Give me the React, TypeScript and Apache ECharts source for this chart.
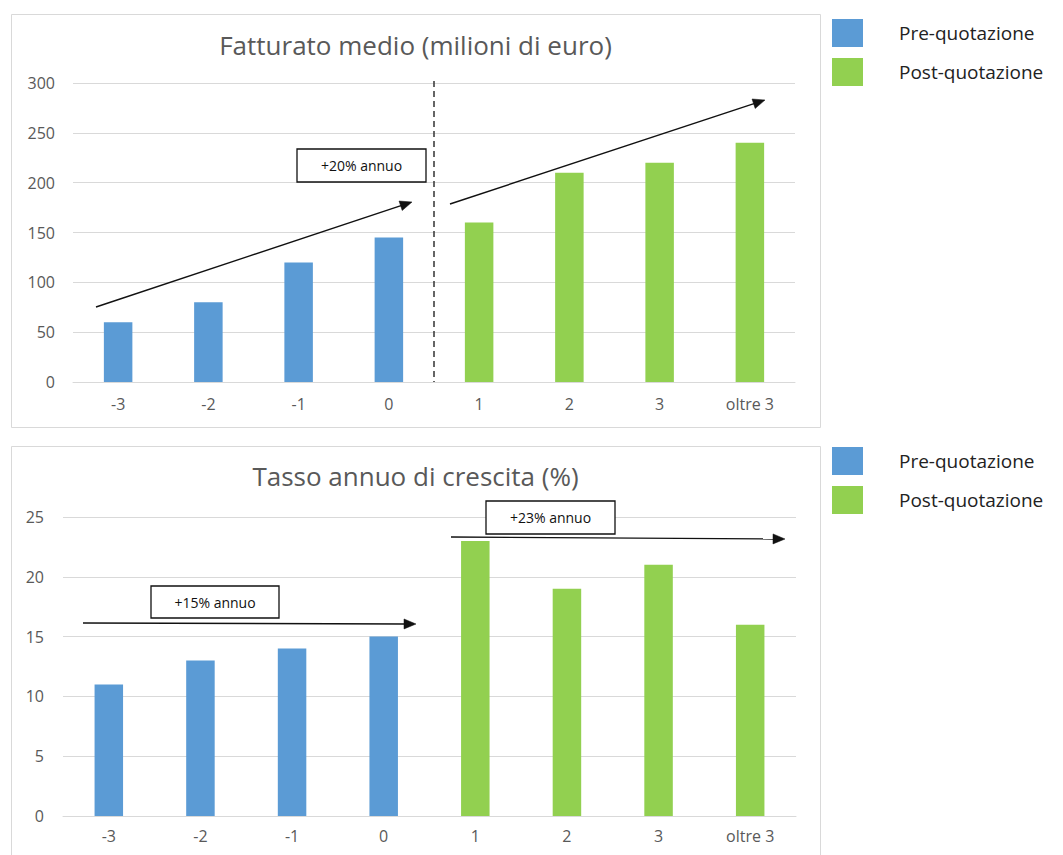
import React, { useEffect, useRef } from "react";
import * as echarts from "echarts";

// Categories: years relative to the listing (0 = listing year)
const categories = ["-3", "-2", "-1", "0", "1", "2", "3", "oltre 3"];

// Average turnover (million euro)
const fatturatoPre = [60, 80, 120, 145];
const fatturatoPost = [160, 210, 220, 240];

// Annual growth rate (%)
const crescitaPre = [11, 13, 14, 15];
const crescitaPost = [23, 19, 21, 16];

// Value axis ranges
const fatturatoAxis = { min: 0, max: 300, interval: 50 };
const crescitaAxis = { min: 0, max: 25, interval: 5 };

const seriesNames = ["Pre-quotazione", "Post-quotazione"];
const chartTitles = ["Fatturato medio (milioni di euro)", "Tasso annuo di crescita (%)"];
const trendLabels = ["+20% annuo", "+15% annuo", "+23% annuo"];

const BLUE = "#5B9BD5";
const GREEN = "#92D050";
const GRID_GRAY = "#D9D9D9";
const TEXT_GRAY = "#595959";
const FONT = '"Open Sans", "Noto Sans", sans-serif';

// Pre values fill the first slots, post values the last ones
const preSlots = (pre: number[], post: number[]) => [...pre, ...post.map(() => "-")];
const postSlots = (pre: number[], post: number[]) => [...pre.map(() => "-"), ...post];

function arrow(x1: number, y1: number, x2: number, y2: number) {
  const dx = x2 - x1;
  const dy = y2 - y1;
  const len = Math.hypot(dx, dy);
  const ux = dx / len;
  const uy = dy / len;
  const head = 12;
  const half = 5;
  const bx = x2 - ux * head;
  const by = y2 - uy * head;
  return [
    {
      type: "line",
      z: 20,
      shape: { x1, y1, x2: bx + ux * 2, y2: by + uy * 2 },
      style: { stroke: "#111", lineWidth: 1.4 },
    },
    {
      type: "polygon",
      z: 20,
      shape: {
        points: [
          [x2, y2],
          [bx - uy * half, by + ux * half],
          [bx + uy * half, by - ux * half],
        ],
      },
      style: { fill: "#111", stroke: "#111", lineWidth: 0.5 },
    },
  ];
}

function labelBox(x: number, y: number, w: number, h: number, text: string) {
  return [
    {
      type: "rect",
      z: 21,
      shape: { x, y, width: w, height: h },
      style: { fill: "#fff", stroke: "#111", lineWidth: 1.3 },
    },
    {
      type: "text",
      z: 22,
      x: x + w / 2,
      y: y + h / 2,
      style: {
        text,
        fill: "#111",
        fontSize: 14,
        fontFamily: FONT,
        align: "center",
        verticalAlign: "middle",
        textAlign: "center",
        textVerticalAlign: "middle",
      },
    },
  ];
}

function valueAxis(gridIndex: number, range: { min: number; max: number; interval: number }, margin: number) {
  return {
    type: "value",
    gridIndex,
    min: range.min,
    max: range.max,
    interval: range.interval,
    axisLine: { show: false },
    axisTick: { show: false },
    axisLabel: { color: TEXT_GRAY, fontSize: 16, fontFamily: FONT, margin },
    splitLine: { lineStyle: { color: GRID_GRAY, width: 1 } },
  };
}

function categoryAxis(gridIndex: number, margin: number) {
  return {
    type: "category",
    gridIndex,
    data: categories,
    axisLine: { lineStyle: { color: GRID_GRAY, width: 1 } },
    axisTick: { show: false },
    axisLabel: { color: TEXT_GRAY, fontSize: 16, fontFamily: FONT, margin, interval: 0 },
  };
}

function barSeries(name: string, color: string, data: (number | string)[], idx: number) {
  return {
    type: "bar",
    name,
    xAxisIndex: idx,
    yAxisIndex: idx,
    data,
    barWidth: 28.5,
    barGap: "-100%",
    itemStyle: { color },
  };
}

function legend(top: number) {
  return {
    orient: "vertical",
    left: 832,
    top,
    padding: 0,
    itemWidth: 31,
    itemHeight: 28,
    itemGap: 11,
    icon: "rect",
    data: seriesNames,
    selectedMode: false,
    textStyle: { fontSize: 19, color: "#222", fontFamily: FONT, padding: [0, 0, 0, 31] },
  };
}

const titleStyle = { fontSize: 26, fontWeight: "normal", color: TEXT_GRAY, fontFamily: FONT };

const option = {
  animation: false,
  backgroundColor: "#fff",
  title: [
    { text: chartTitles[0], left: 415.5, top: 32, textAlign: "center", padding: 0, textStyle: titleStyle },
    { text: chartTitles[1], left: 415.5, top: 463, textAlign: "center", padding: 0, textStyle: titleStyle },
  ],
  legend: [legend(19), legend(447)],
  grid: [
    { left: 73, top: 83, width: 722, height: 299 },
    { left: 63, top: 517, width: 733, height: 299 },
  ],
  xAxis: [categoryAxis(0, 14), categoryAxis(1, 12)],
  yAxis: [valueAxis(0, fatturatoAxis, 18), valueAxis(1, crescitaAxis, 19)],
  series: [
    barSeries(seriesNames[0], BLUE, preSlots(fatturatoPre, fatturatoPost), 0),
    barSeries(seriesNames[1], GREEN, postSlots(fatturatoPre, fatturatoPost), 0),
    barSeries(seriesNames[0], BLUE, preSlots(crescitaPre, crescitaPost), 1),
    barSeries(seriesNames[1], GREEN, postSlots(crescitaPre, crescitaPost), 1),
  ],
  graphic: [
    // chart frames
    {
      type: "rect",
      z: 1,
      shape: { x: 11.5, y: 14.5, width: 809, height: 413 },
      style: { fill: "none", stroke: GRID_GRAY, lineWidth: 1 },
    },
    {
      type: "rect",
      z: 1,
      shape: { x: 11.5, y: 446.5, width: 809, height: 430 },
      style: { fill: "none", stroke: GRID_GRAY, lineWidth: 1 },
    },
    // listing-year divider
    {
      type: "line",
      z: 19,
      shape: { x1: 434, y1: 81, x2: 434, y2: 382 },
      style: { stroke: "#333", lineWidth: 1.5, lineDash: [6, 4] },
    },
    ...arrow(96, 307, 412, 202),
    ...arrow(450, 204, 765, 100),
    ...labelBox(297, 149, 129, 33, trendLabels[0]),
    ...arrow(83, 623, 416, 624),
    ...arrow(451, 537, 785, 539),
    ...labelBox(151, 586, 128, 32, trendLabels[1]),
    ...labelBox(486, 501, 129, 33, trendLabels[2]),
  ],
};

export default function App() {
  const ref = useRef<HTMLDivElement>(null);
  useEffect(() => {
    if (!ref.current) return;
    const chart = echarts.init(ref.current, null, { renderer: "svg" });
    chart.setOption(option as any);
    return () => chart.dispose();
  }, []);
  return (
    <div
      ref={ref}
      style={{ position: "fixed", left: 0, top: 0, width: 1063, height: 855, background: "#fff" }}
    />
  );
}
